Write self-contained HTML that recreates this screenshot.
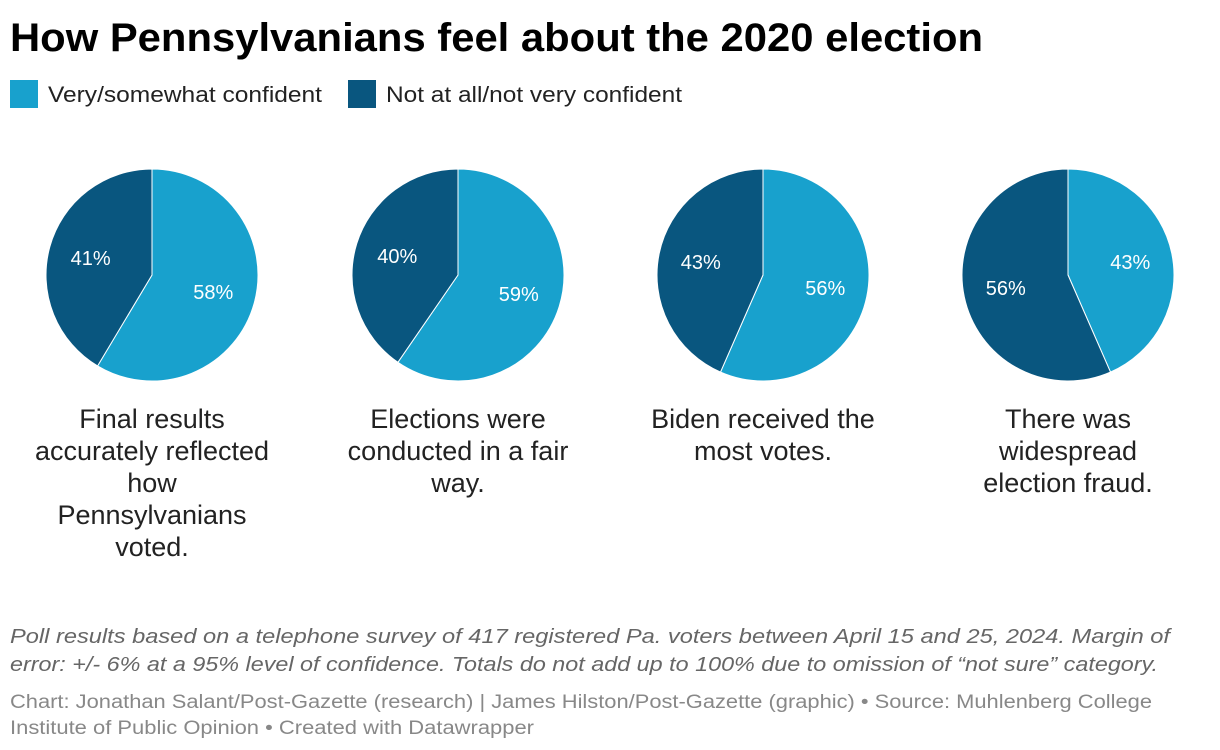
<!DOCTYPE html>
<html><head><meta charset="utf-8"><style>
body{margin:0;background:#fff}
svg{display:block;font-family:"Liberation Sans",sans-serif}
</style></head><body>
<svg id="chart" width="1220" height="750" viewBox="0 0 1220 750">
<text x="10" y="51" font-size="40" font-weight="bold" fill="#000" textLength="973" lengthAdjust="spacingAndGlyphs">How Pennsylvanians feel about the 2020 election</text>
<g>
<rect x="10" y="80" width="28" height="28" fill="#18a1cd"/>
<text x="48" y="102" font-size="22" fill="#222" textLength="274" lengthAdjust="spacingAndGlyphs">Very/somewhat confident</text>
<rect x="348" y="80" width="28" height="28" fill="#09567f"/>
<text x="386" y="102" font-size="22" fill="#222" textLength="296" lengthAdjust="spacingAndGlyphs">Not at all/not very confident</text>
</g>
<g id="pies"></g>
<text font-size="20" font-style="italic" fill="#666">
<tspan x="10" y="643" textLength="1160" lengthAdjust="spacingAndGlyphs">Poll results based on a telephone survey of 417 registered Pa. voters between April 15 and 25, 2024. Margin of</tspan>
<tspan x="10" y="671" textLength="1148" lengthAdjust="spacingAndGlyphs">error: +/- 6% at a 95% level of confidence. Totals do not add up to 100% due to omission of “not sure” category.</tspan>
</text>
<text font-size="19" fill="#888">
<tspan x="10" y="708" textLength="1142" lengthAdjust="spacingAndGlyphs">Chart: Jonathan Salant/Post-Gazette (research) | James Hilston/Post-Gazette (graphic) • Source: Muhlenberg College</tspan>
<tspan x="10" y="734" textLength="524" lengthAdjust="spacingAndGlyphs">Institute of Public Opinion • Created with Datawrapper</tspan>
</text>
</svg>
<script>
const questions = [
  ["Final results","accurately reflected","how","Pennsylvanians","voted."],
  ["Elections were","conducted in a fair","way."],
  ["Biden received the","most votes."],
  ["There was","widespread","election fraud."]
];
const confident = [58, 59, 56, 43];
const notConfident = [41, 40, 43, 56];
const NS = "http://www.w3.org/2000/svg";
const g = document.getElementById("pies");
const centersX = [152, 458, 763, 1068], cy = 275, r = 106;
function pt(cx, a, rr){ return [cx + rr*Math.sin(a), cy - rr*Math.cos(a)]; }
function slice(cx, a0, a1, color){
  const p = document.createElementNS(NS, "path");
  const [x0,y0] = pt(cx,a0,r), [x1,y1] = pt(cx,a1,r);
  const large = (a1-a0) > Math.PI ? 1 : 0;
  p.setAttribute("d", `M${cx},${cy}L${x0},${y0}A${r},${r} 0 ${large} 1 ${x1},${y1}Z`);
  p.setAttribute("fill", color);
  p.setAttribute("stroke", "#fff");
  p.setAttribute("stroke-width", "1");
  return p;
}
function label(cx, a, txt){
  const [x,y] = pt(cx,a,r*0.6);
  const t = document.createElementNS(NS, "text");
  t.setAttribute("x", x); t.setAttribute("y", y+7);
  t.setAttribute("text-anchor","middle"); t.setAttribute("font-size","20");
  t.setAttribute("fill","#fff"); t.textContent = txt;
  return t;
}
confident.forEach((c, i) => {
  const cx = centersX[i];
  const total = c + notConfident[i];
  const aSplit = 2*Math.PI*c/total;
  const s1 = slice(cx, 0, aSplit, "#18a1cd");
  
  
  g.appendChild(s1);
  const s2 = slice(cx, aSplit, 2*Math.PI, "#09567f");
  
  
  g.appendChild(s2);
  const l1 = label(cx, aSplit/2, c + "%");
  
  
  g.appendChild(l1);
  const l2 = label(cx, (aSplit + 2*Math.PI)/2, notConfident[i] + "%");
  
  
  g.appendChild(l2);
  const q = document.createElementNS(NS, "text");
  
  
  q.setAttribute("font-size","27"); q.setAttribute("fill","#222"); q.setAttribute("text-anchor","middle");
  questions[i].forEach((line, j) => {
    const ts = document.createElementNS(NS, "tspan");
    ts.setAttribute("x", cx); ts.setAttribute("y", 428 + j*32);
    ts.textContent = line;
    q.appendChild(ts);
  });
  g.appendChild(q);
});
</script>
</body></html>
